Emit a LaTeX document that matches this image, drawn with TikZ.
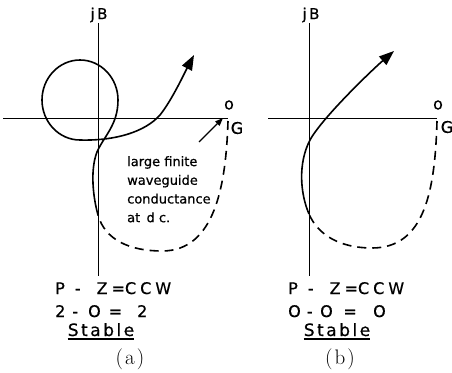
\documentclass[tikz,border=0pt]{standalone}
\usepackage{fontspec}
\newfontfamily\leroy[FakeBold=0.6]{DejaVu Sans}
\usetikzlibrary{arrows.meta}

\begin{document}
\begin{tikzpicture}[x=1pt, y=-1pt,
  axis/.style={line width=0.8pt},
  locus/.style={line width=1.6pt, -{Triangle[length=15pt,width=11pt]}},
  tail/.style={line width=1.6pt, dash pattern=on 9pt off 6pt},
  pointer/.style={line width=1.1pt, -{Triangle[length=8pt,width=6pt]}},
  axlabel/.style={inner sep=0pt, font=\leroy\fontsize{15}{17}\selectfont},
  lettering/.style={inner sep=0pt, anchor=base west, font=\leroy\fontsize{16}{18}\selectfont},
  verdict/.style={inner sep=0pt, anchor=base, font=\leroy\fontsize{17}{19}\selectfont},
  caption/.style={inner sep=0pt, font=\fontsize{21}{23}\selectfont},
  note/.style={inner sep=0pt, anchor=north west, align=left, font=\leroy\fontsize{13}{18.7}\selectfont},
]
  \useasboundingbox (0,0) rectangle (452,372);

  % ── (a): axes ──
  \node[axlabel] (jbA) at (99,15) {j\,B};
  \coordinate (topA) at (98,23);
  \coordinate (botA) at (98,276);
  \coordinate (westA) at (3,118);
  \coordinate (eastA) at (228,118);
  \draw[axis] (topA) -- (botA);
  \draw[axis] (westA) -- (eastA);
  \node[axlabel, font=\leroy\fontsize{16}{16}\selectfont] (originA) at (229,105) {o};
  \node[axlabel, font=\leroy\fontsize{16}{16}\selectfont] (gA) at (237,128) {G};

  % ── (a): locus, dashed part then solid loop ──
  \draw[tail] (228,121) .. controls (226,185) and (215,251) .. (162,251)
    .. controls (130,251) and (105,240) .. (98,215);
  \draw[locus] (98,215) .. controls (93,197) and (90,170) .. (97,152)
    .. controls (104,136) and (118,125) .. (118,100)
    .. controls (118,78) and (101,60) .. (80,60)
    .. controls (59,60) and (42,78) .. (42,100)
    .. controls (42,122) and (59,140) .. (80,140)
    .. controls (115,141) and (145,132) .. (160,115)
    .. controls (172,100) and (185,72) .. (194,55);

  % ── (a): annotation ──
  \node[note] (dcNote) at (127,156) {large finite\\waveguide\\conductance\\at\, d c.};
  \coordinate (dcTail) at (199,142);
  \coordinate (dcTip) at (223,118);
  \draw[pointer] (dcTail) -- (dcTip);

  % ── (a): text ──
  \node[lettering] (pzA) at (55,294) {P\hspace{10pt}-\hspace{16pt}Z\hspace{4pt}=C\kern4pt C\kern4pt W};
  \node[lettering] (sumA) at (55,317) {2\hspace{7pt}-\hspace{10pt}O\hspace{8pt}=\hspace{15pt}2};
  \node[verdict] (stA) at (101,336) {S\kern2.5pt t\kern2.5pt a\kern2.5pt b\kern2.5pt l\kern2.5pt e};
  \draw[line width=1.5pt] ([yshift=-3pt]stA.base west) -- ([yshift=-3pt]stA.base east);
  \node[caption] (capA) at (130,359) {(\kern2pt a\kern2pt)};

  % ── (b): axes ──
  \node[axlabel] (jbB) at (311,15) {j\,B};
  \coordinate (topB) at (309,23);
  \coordinate (botB) at (309,276);
  \coordinate (westB) at (268,118);
  \coordinate (eastB) at (437,118);
  \draw[axis] (topB) -- (botB);
  \draw[axis] (westB) -- (eastB);
  \node[axlabel, font=\leroy\fontsize{16}{16}\selectfont] (originB) at (438,105) {o};
  \node[axlabel, font=\leroy\fontsize{16}{16}\selectfont] (gB) at (447,127) {G};

  % ── (b): locus ──
  \draw[tail] (437,121) .. controls (435,190) and (425,248) .. (372,248)
    .. controls (340,248) and (318,235) .. (309,214);
  \draw[locus] (309,214) .. controls (300,193) and (298,163) .. (310,140)
    .. controls (322,118) and (372,70) .. (394,51);

  % ── (b): text ──
  \node[lettering] (pzB) at (288,294) {P\hspace{10pt}-\hspace{16pt}Z\hspace{4pt}=C\kern4pt C\kern4pt W};
  \node[lettering] (sumB) at (288,317) {O\hspace{6pt}-\hspace{7.6pt}O\hspace{10.7pt}=\hspace{16.3pt}O};
  \node[verdict] (stB) at (337,336) {S\kern2.5pt t\kern2.5pt a\kern2.5pt b\kern2.5pt l\kern2.5pt e};
  \draw[line width=1.5pt] ([yshift=-3pt]stB.base west) -- ([yshift=-3pt]stB.base east);
  \node[caption] (capB) at (340,359) {(\kern2pt b\kern2pt)};
\end{tikzpicture}
\end{document}
